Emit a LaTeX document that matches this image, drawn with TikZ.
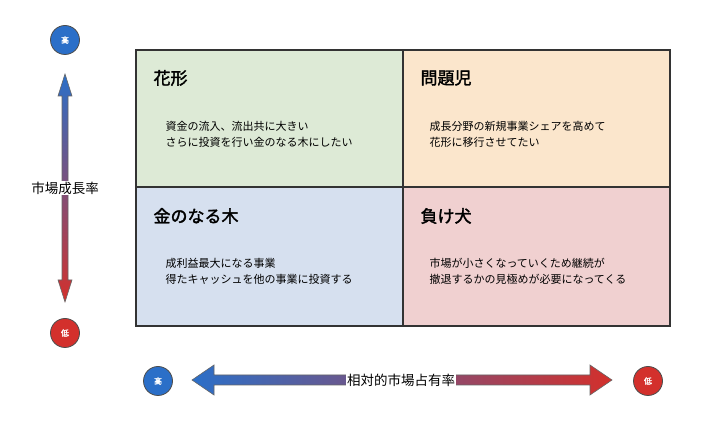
\documentclass[tikz,border=0pt]{standalone}
\usepackage{fontspec}
\setmainfont{Noto Sans CJK JP}
\newfontfamily\cjkb{Noto Sans CJK JP}[FakeBold=2]
\definecolor{cg}{HTML}{DDEAD6}
\definecolor{co}{HTML}{FBE6CC}
\definecolor{cb}{HTML}{D6E0EF}
\definecolor{cr}{HTML}{F0D0D0}
\definecolor{kb}{HTML}{2B6FC8}
\definecolor{kr}{HTML}{D3302C}
\begin{document}
\begin{tikzpicture}[x=1pt,y=1pt,
 cell/.style={draw=black!80,line width=1.6pt},
 ttl/.style={anchor=west,font=\cjkb\fontsize{17}{19}\selectfont},
 body/.style={anchor=north west,align=left,font=\fontsize{11}{16}\selectfont},
 axl/.style={font=\fontsize{13.5}{14}\selectfont,fill=white,inner sep=1pt},
 dot/.style={circle,minimum size=29pt,inner sep=0pt,draw=black!70,line width=0.8pt,text=white,font=\cjkb\fontsize{8}{8}\selectfont}]
\useasboundingbox (0,0) rectangle (704,436);
\fill[cg] (136,386) rectangle (403,249);
\fill[co] (403,386) rectangle (670,249);
\fill[cb] (136,249) rectangle (403,110);
\fill[cr] (403,249) rectangle (670,110);
\draw[cell] (136,386) rectangle (670,110);
\draw[cell] (403,386) -- (403,110) (136,249) -- (670,249);
\node[ttl] (t1) at (150,358) {花形};
\node[ttl] (t2) at (417,358) {問題児};
\node[ttl] (t3) at (150,220) {金のなる木};
\node[ttl] (t4) at (417,220) {負け犬};
\node[body] (b1) at (162,318) {資金の流入、流出共に大きい\\さらに投資を行い金のなる木にしたい};
\node[body] (b2) at (426,318) {成長分野の新規事業シェアを高めて\\花形に移行させてたい};
\node[body] (b3) at (162,181) {成利益最大になる事業\\得たキャッシュを他の事業に投資する};
\node[body] (b4) at (426,181) {市場が小さくなっていくため継続が\\撤退するかの見極めが必要になってくる};
\node[dot,fill=kb] (vh) at (65,396) {高};
\node[dot,fill=kr] (vl) at (65,103) {低};
\node[dot,fill=kb] (hh) at (158,55) {高};
\node[dot,fill=kr] (hl) at (648,55) {低};
\shade[top color=kb,bottom color=kr,draw=black!60,line width=0.6pt]
 (65,362) -- (72,340) -- (68,340) -- (68,156) -- (72,156) -- (65,134) -- (58,156) -- (62,156) -- (62,340) -- (58,340) -- cycle;
\node[axl] (vlab) at (65,248) {市場成長率};
\shade[left color=kb,right color=kr,draw=black!60,line width=0.6pt]
 (192,56) -- (214,71) -- (214,61) -- (590,61) -- (590,71) -- (612,56) -- (590,41) -- (590,51) -- (214,51) -- (214,41) -- cycle;
\node[axl] (hlab) at (401,56) {相対的市場占有率};
\end{tikzpicture}
\end{document}
